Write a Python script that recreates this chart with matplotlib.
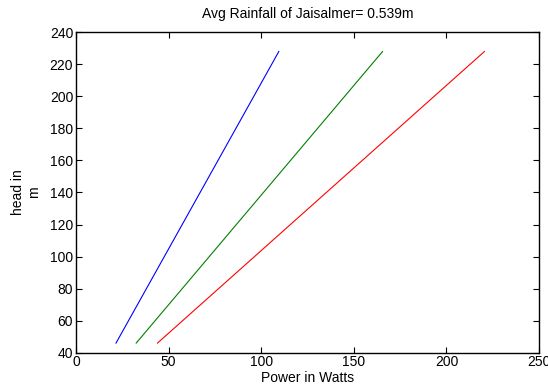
import matplotlib
matplotlib.use("Agg")
import matplotlib.pyplot as plt

plt.rcParams['font.family'] = ['Liberation Sans', 'DejaVu Sans']

# head (m) vs power (W) for three cases
head = [46, 228]
power_blue = [21.6, 109.5]
power_green = [32.5, 165.5]
power_red = [44, 220.5]

fig = plt.figure(figsize=(5.48, 3.88), dpi=100)
ax = fig.add_axes([0.1387, 0.091, 0.845, 0.8258])

ax.plot(power_blue, head, color=(0, 0, 1), lw=0.8)
ax.plot(power_green, head, color=(0, 0.5, 0), lw=0.8)
ax.plot(power_red, head, color=(1, 0, 0), lw=0.8)

ax.set_xlim(0, 250)
ax.set_ylim(40, 240)
ax.set_xticks(range(0, 251, 50))
ax.set_yticks(range(40, 241, 20))
ax.tick_params(direction='in', top=True, right=True, labelsize=10, length=4, width=0.8, pad=2)
for s in ax.spines.values():
    s.set_linewidth(1.0)

ax.set_xlabel("Power in Watts", fontsize=10, labelpad=1)
ax.set_ylabel("head in\nm", fontsize=10, labelpad=6)
ax.set_title("Avg Rainfall of Jaisalmer= 0.539m", fontsize=10, pad=10)

fig.savefig("out.png", dpi=100)
